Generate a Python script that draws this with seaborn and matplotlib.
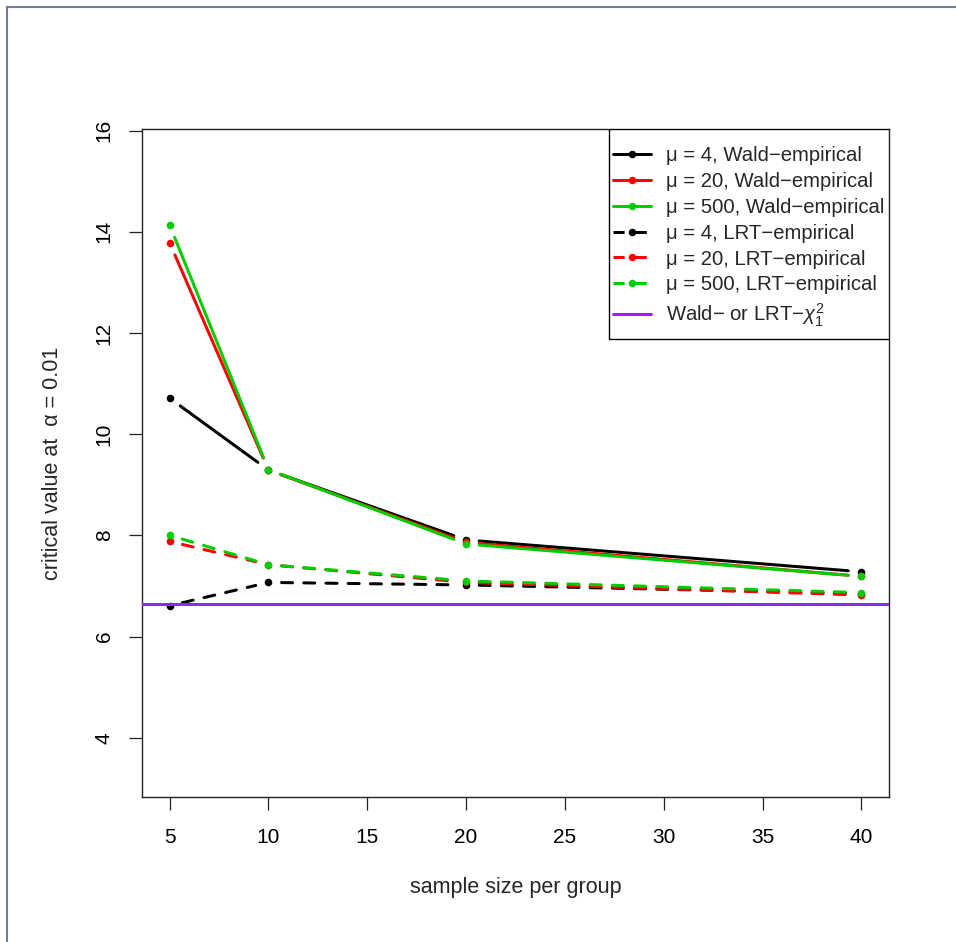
import matplotlib
matplotlib.use("Agg")
import matplotlib.pyplot as plt
from matplotlib.lines import Line2D
from matplotlib.patches import Rectangle
import seaborn as sns
import pandas as pd

# ---- data ----
sample_size = [5, 10, 20, 40]
wald_mu4 = [10.71, 9.29, 7.91, 7.28]
wald_mu20 = [13.78, 9.29, 7.86, 7.19]
wald_mu500 = [14.13, 9.30, 7.83, 7.19]
lrt_mu4 = [6.61, 7.07, 7.02, 6.85]
lrt_mu20 = [7.88, 7.42, 7.07, 6.82]
lrt_mu500 = [8.00, 7.42, 7.10, 6.87]
chisq_crit = 6.635

labels = ["\u03bc = 4, Wald\u2212empirical",
          "\u03bc = 20, Wald\u2212empirical",
          "\u03bc = 500, Wald\u2212empirical",
          "\u03bc = 4, LRT\u2212empirical",
          "\u03bc = 20, LRT\u2212empirical",
          "\u03bc = 500, LRT\u2212empirical"]
chisq_label = "Wald\u2212 or LRT\u2212$\\chi^2_1$"
x_ticks = [5, 10, 15, 20, 25, 30, 35, 40]
y_ticks = [4, 6, 8, 10, 12, 14, 16]

sns.set_style("ticks")
plt.rcParams["font.family"] = ["Liberation Sans", "DejaVu Sans"]
plt.rcParams["mathtext.fontset"] = "custom"
plt.rcParams["mathtext.rm"] = "Liberation Sans"
plt.rcParams["mathtext.it"] = "Liberation Sans:italic"

W, H = 956, 942
fig = plt.figure(figsize=(W / 100, H / 100), dpi=100)
fig.patch.set_facecolor("white")
L, R, T, B = 142, 889, 129, 797
ax = fig.add_axes([L / W, 1 - B / H, (R - L) / W, (B - T) / H])
ax.set_facecolor("white")

series = [wald_mu4, wald_mu20, wald_mu500, lrt_mu4, lrt_mu20, lrt_mu500]
colors = ["black", "#FF0000", "#00CD00", "black", "#FF0000", "#00CD00"]
styles = ["solid", "solid", "solid", (0, (3.7, 3.7)), (0, (3.7, 3.7)), (0, (3.7, 3.7))]
lw = 2.16
gap = 9.4

z = 3
for vals, col, ls in zip(series, colors, styles):
    for i in range(len(sample_size) - 1):
        ax.annotate("", xy=(sample_size[i + 1], vals[i + 1]),
                    xytext=(sample_size[i], vals[i]),
                    xycoords="data", textcoords="data",
                    arrowprops=dict(arrowstyle="-", color=col, lw=lw,
                                    linestyle=ls, shrinkA=gap, shrinkB=gap),
                    zorder=z, annotation_clip=False)
    df = pd.DataFrame({"n": sample_size, "v": vals})
    sns.scatterplot(data=df, x="n", y="v", ax=ax, color=col, s=30,
                    linewidth=0, zorder=z + 0.5, legend=False)
    z += 1

ax.axhline(chisq_crit, color="#A020F0", lw=lw, zorder=z + 1)

ax.set_xlim(3.6, 41.4)
ax.set_ylim(2.83, 16.03)
ax.set_xticks(x_ticks)
ax.set_yticks(y_ticks)
ax.set_xticklabels([str(v) for v in x_ticks])
ax.set_yticklabels([str(v) for v in y_ticks])
ax.tick_params(axis="both", direction="out", length=9.4, width=0.9,
               color="#222222", labelsize=15, labelcolor="black")
ax.tick_params(axis="x", pad=13)
ax.tick_params(axis="y", pad=11, labelrotation=90)
for lab in ax.get_yticklabels():
    lab.set_va("center")
for sp in ax.spines.values():
    sp.set_color("#222222")
    sp.set_linewidth(1.0)
    sp.set_visible(True)

ax.set_xlabel("sample size per group", fontsize=15.5, va="center")
ax.set_ylabel("critical value at  \u03b1 = 0.01", fontsize=15.5, va="center")
ax.xaxis.set_label_coords(0.5, -(887 - B) / (B - T))
ax.yaxis.set_label_coords(-(L - 53) / (R - L), 0.5)

# legend frame (drawn as a rectangle in axes fraction)
LX0, LY1 = 609, 339
ax.add_patch(Rectangle(((LX0 - L) / (R - L), (B - LY1) / (B - T)),
                       (R - LX0) / (R - L), (LY1 - T) / (B - T),
                       transform=ax.transAxes, facecolor="white",
                       edgecolor="black", lw=1.0, zorder=20))

handles = [Line2D([0], [0], color=c, lw=lw, linestyle=s, marker="o",
                  markersize=5.4, markeredgewidth=0)
           for c, s in zip(colors, styles)]
handles.append(Line2D([0], [0], color="#A020F0", lw=lw))
leg = ax.legend(handles, labels + [chisq_label], loc="upper left",
                bbox_to_anchor=((613 - L) / (R - L), (B - 146) / (B - T)),
                borderaxespad=0, frameon=False, fontsize=14.6,
                handlelength=1.87, handletextpad=0.74, labelspacing=0.34,
                borderpad=0)
leg.set_zorder(21)

# outer frame lines (top and left)
fig.add_artist(Line2D([7 / W, 1], [1 - 7 / H, 1 - 7 / H], color="#6b7f9a",
                      lw=1.5, transform=fig.transFigure))
fig.add_artist(Line2D([7 / W, 7 / W], [0, 1 - 7 / H], color="#6b7f9a",
                      lw=1.5, transform=fig.transFigure))

fig.savefig("out.png", dpi=100)
